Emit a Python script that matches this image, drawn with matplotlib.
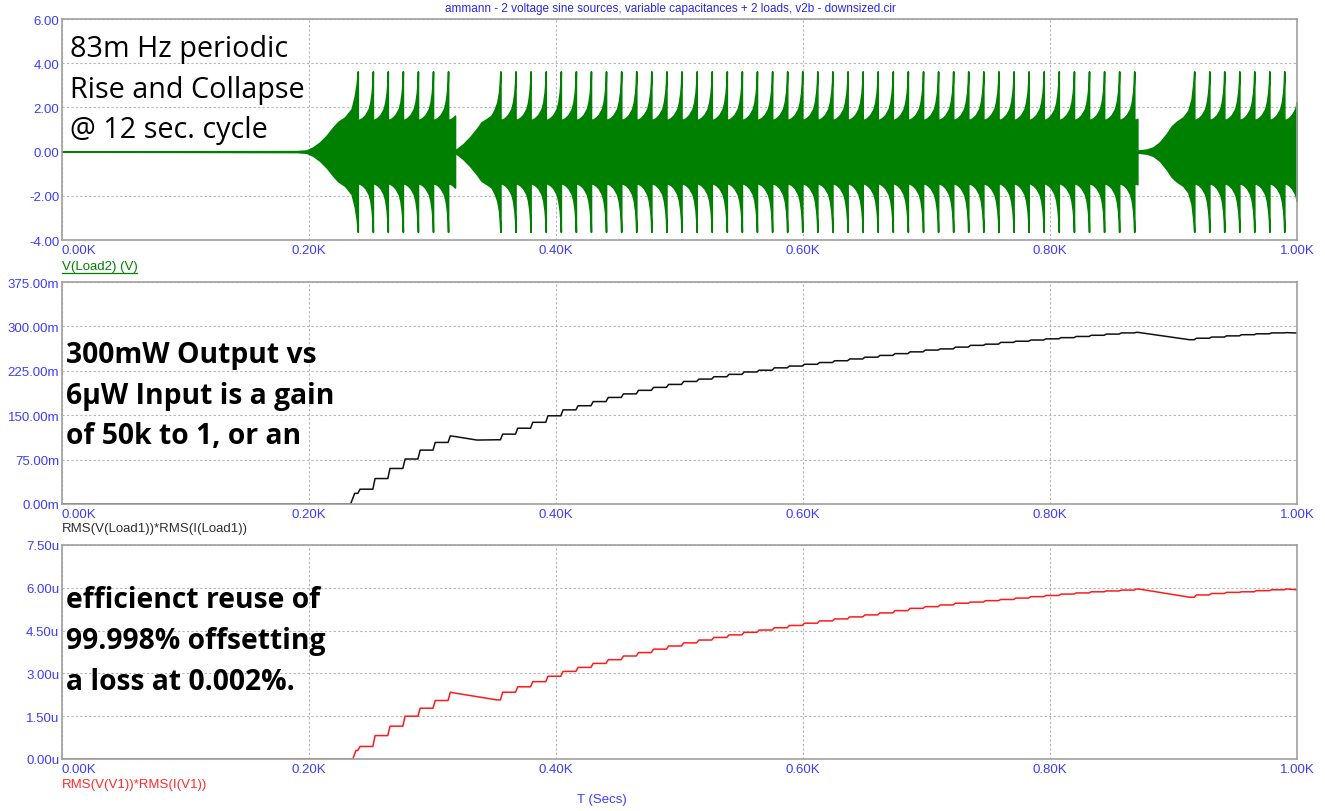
import numpy as np
import matplotlib.pyplot as plt

# ---- data (time axis in seconds) ----
x_ticks = [0, 200, 400, 600, 800, 1000]
x_tick_labels = ["0.00K", "0.20K", "0.40K", "0.60K", "0.80K", "1.00K"]

v_ticks = [-4, -2, 0, 2, 4, 6]
v_tick_labels = ["-4.00", "-2.00", "0.00", "2.00", "4.00", "6.00"]
p_out_ticks = [0, 75, 150, 225, 300, 375]
p_out_tick_labels = ["0.00m", "75.00m", "150.00m", "225.00m", "300.00m", "375.00m"]
p_in_ticks = [0, 1.5, 3.0, 4.5, 6.0, 7.5]
p_in_tick_labels = ["0.00u", "1.50u", "3.00u", "4.50u", "6.00u", "7.50u"]

# times of the periodic collapse spikes in the three bursts
burst1_teeth = [239.5, 251.7, 263.8, 276.0, 288.2, 300.4, 312.6]
burst2_teeth = [355.0, 367.2, 379.4, 391.7, 403.9, 416.1, 428.3, 440.5, 452.8, 465.0,
                477.2, 489.4, 501.6, 513.9, 526.1, 538.3, 550.5, 562.7, 575.0, 587.2,
                599.4, 611.6, 623.8, 636.1, 648.3, 660.5, 672.7, 684.9, 697.2, 709.4,
                721.6, 733.8, 746.0, 758.3, 770.5, 782.7, 794.9, 807.1, 819.4, 831.6,
                843.8, 856.0, 868.2]
burst3_teeth = [916.8, 929.0, 941.1, 953.3, 965.4, 977.6, 989.7]
collapse_times = [318.2, 870.7]
cycle = 12.2

# envelope of V(Load2) within one cycle (fraction of cycle -> amplitude)
tooth_frac = [0.0, 0.07, 0.29, 0.51, 0.73, 0.84, 0.93, 0.98, 1.0]
tooth_env = [1.40, 1.43, 1.51, 1.66, 1.93, 2.23, 2.68, 3.13, 3.63]

# build-up of the envelope before the first spike of each burst
ramp1_t = [0, 190, 198, 203.4, 209, 214.3, 219.7, 223.8, 229.2, 234.6, 237.2, 238.8]
ramp1_env = [0, 0.02, 0.05, 0.19, 0.42, 0.72, 1.10, 1.35, 1.55, 1.93, 2.53, 3.13]
ramp2_t = [318.2, 320, 325, 330.4, 335.8, 339.8, 343.9, 347.9, 350.6, 352.5, 353.9, 354.5]
ramp2_env = [0.05, 0.12, 0.34, 0.65, 1.02, 1.33, 1.47, 1.63, 1.93, 2.23, 2.68, 3.13]
ramp3_t = [870.7, 878.3, 883.6, 889, 894.5, 898.5, 902.6, 907.9, 912, 914.7, 916.2]
ramp3_env = [0.04, 0.09, 0.19, 0.42, 0.80, 1.14, 1.35, 1.55, 1.85, 2.38, 3.13]

# RMS(V(Load1))*RMS(I(Load1)) in mW, level after each spike
load1_rise_t = [0, 233.7, 237.0]
load1_rise_v = [0, 0, 18]
load1_b1 = [25, 43, 60, 76, 91, 104, 115]
load1_gap1_t = [318.2, 336, 352]
load1_gap1_v = [114, 108, 108.5]
load1_b2 = [118, 128, 138, 149, 159, 166, 173, 180, 186, 192,
            197, 202, 207, 211, 215, 219, 223, 226, 230, 233,
            236, 239, 242, 245, 248, 251, 254, 257, 260, 262,
            265, 268, 270, 273, 275, 277, 279, 281, 283, 285,
            287, 289, 290]
load1_gap2_t = [871, 913]
load1_gap2_v = [290, 277.5]
load1_b3 = [280, 282, 284, 286, 287.5, 289, 289.5]
load1_end_t = [1000]
load1_end_v = [288.8]

# RMS(V(V1))*RMS(I(V1)) in uW
v1_rise_t = [0, 235.5, 238.0]
v1_rise_v = [0, 0, 0.30]
v1_b1 = [0.44, 0.82, 1.15, 1.50, 1.78, 2.05, 2.34]
v1_gap1_t = [318.2, 352.5]
v1_gap1_v = [2.31, 2.07]
v1_b2 = [2.34, 2.53, 2.71, 2.90, 3.07, 3.21, 3.35, 3.48, 3.61, 3.73,
         3.85, 3.96, 4.07, 4.17, 4.26, 4.35, 4.44, 4.52, 4.60, 4.68,
         4.76, 4.84, 4.91, 4.98, 5.05, 5.12, 5.20, 5.28, 5.34, 5.40,
         5.46, 5.50, 5.55, 5.59, 5.64, 5.69, 5.73, 5.78, 5.82, 5.86,
         5.89, 5.92, 5.96]
v1_gap2_t = [873, 913]
v1_gap2_v = [5.95, 5.67]
v1_b3 = [5.75, 5.80, 5.84, 5.86, 5.90, 5.93, 5.96]
v1_end_t = [1000]
v1_end_v = [5.93]


def burst_envelope(teeth, stop):
    t, e = [], []
    for i, t0 in enumerate(teeth):
        t.append(t0)
        e.append(tooth_env[-1])
        span = teeth[i + 1] - t0 if i + 1 < len(teeth) else cycle
        for f, a in zip(tooth_frac[:-1], tooth_env[:-1]):
            tt = t0 + f * span
            if tt < stop:
                t.append(tt)
                e.append(a)
    # value at the collapse / end of record
    last = teeth[-1]
    t.append(stop)
    e.append(np.interp((stop - last) / cycle, tooth_frac, tooth_env))
    return t, e


def staircase(rise_t, rise_v, parts, rise_w=1.8):
    t, v = list(rise_t), list(rise_v)
    prev = rise_v[-1]
    for teeth, vals, tail_t, tail_v in parts:
        for t0, val in zip(teeth, vals):
            t += [t0, t0 + rise_w]
            v += [prev, val]
            prev = val
        t += tail_t
        v += tail_v
        prev = tail_v[-1]
    return np.array(t), np.array(v)


# green envelope
env_t, env_v = list(ramp1_t), list(ramp1_env)
bt, be = burst_envelope(burst1_teeth, collapse_times[0])
env_t += bt; env_v += be
env_t += ramp2_t; env_v += ramp2_env
bt, be = burst_envelope(burst2_teeth, collapse_times[1])
env_t += bt; env_v += be
env_t += ramp3_t; env_v += ramp3_env
bt, be = burst_envelope(burst3_teeth, 1000)
env_t += bt; env_v += be
env_t = np.array(env_t)
env_v = np.array(env_v)

load1_t, load1_v = staircase(load1_rise_t, load1_rise_v, [
    (burst1_teeth, load1_b1, load1_gap1_t, load1_gap1_v),
    (burst2_teeth, load1_b2, load1_gap2_t, load1_gap2_v),
    (burst3_teeth, load1_b3, load1_end_t, load1_end_v)])
v1_t, v1_v = staircase(v1_rise_t, v1_rise_v, [
    (burst1_teeth, v1_b1, v1_gap1_t, v1_gap1_v),
    (burst2_teeth, v1_b2, v1_gap2_t, v1_gap2_v),
    (burst3_teeth, v1_b3, v1_end_t, v1_end_v)])

# ---- figure ----
W, H = 1325, 812
fig = plt.figure(figsize=(W / 100, H / 100), dpi=100)

tick_blue = "#3c3cff"
frame_gray = "#a0a0a0"


def rect(top, bottom):
    return [62 / W, 1 - bottom / H, (1297 - 62) / W, (bottom - top) / H]


def style(ax, ticks, labels, lims):
    ax.set_xlim(0, 1000)
    ax.set_ylim(*lims)
    ax.set_xticks(x_ticks)
    ax.set_xticklabels(x_tick_labels)
    ax.set_yticks(ticks)
    ax.set_yticklabels(labels)
    ax.tick_params(length=0, colors=tick_blue, labelsize=9.5)
    ax.tick_params(axis="y", pad=2)
    ax.tick_params(axis="x", pad=3)
    for lab in ax.get_xticklabels() + ax.get_yticklabels():
        lab.set_family("Liberation Sans")
    ax.get_xticklabels()[0].set_horizontalalignment("left")
    for s in ax.spines.values():
        s.set_color(frame_gray)
        s.set_linewidth(1.2)
    ax.grid(True, linestyle=(0, (2, 2)), color="#b4b4b4", linewidth=0.8)
    ax.set_axisbelow(True)


ax1 = fig.add_axes(rect(20, 241))
ax2 = fig.add_axes(rect(283, 505))
ax3 = fig.add_axes(rect(546, 760))

ax1.fill_between(env_t, -env_v, env_v, color="#008000", linewidth=1.2, edgecolor="#008000")
style(ax1, v_ticks, v_tick_labels, (-4, 6))

ax2.plot(load1_t, load1_v, color="#101010", linewidth=1.1)
style(ax2, p_out_ticks, p_out_tick_labels, (0, 375))

ax3.plot(v1_t, v1_v, color="#ff1a1a", linewidth=1.1)
style(ax3, p_in_ticks, p_in_tick_labels, (0, 7.5))


def ftext(x, y, s, **kw):
    return fig.text(x / W, 1 - y / H, s, **kw)


ftext(670, 9, "ammann - 2 voltage sine sources, variable capacitances + 2 loads, v2b - downsized.cir",
      ha="center", va="center", color="#2828e6", fontsize=8.5, family="Liberation Sans")
ftext(62, 267, "V(Load2) (V)", ha="left", va="center", color="#008000", fontsize=9.5,
      family="Liberation Sans")
fig.add_artist(plt.Line2D([62 / W, 137 / W], [1 - 273.5 / H] * 2, color="#008000", linewidth=0.9))
ftext(62, 529, "RMS(V(Load1))*RMS(I(Load1))", ha="left", va="center", color="#303030",
      fontsize=9.5, family="Liberation Sans")
ftext(62, 785, "RMS(V(V1))*RMS(I(V1))", ha="left", va="center", color="#ff2a2a",
      fontsize=9.5, family="Liberation Sans")
ftext(602, 800, "T (Secs)", ha="center", va="center", color=tick_blue, fontsize=9.5,
      family="Liberation Sans")

note_top = ["83m Hz periodic", "Rise and Collapse", "@ 12 sec. cycle"]
note_mid = ["300mW Output vs", "6\u03bcW Input is a gain", "of 50k to 1, or an"]
note_bot = ["efficienct reuse of", "99.998% offsetting", "a loss at 0.002%."]
for i, s in enumerate(note_top):
    ftext(70, 57 + 40.6 * i, s, ha="left", va="baseline", fontsize=20.7, family="Open Sans",
          color="black")
for i, s in enumerate(note_mid):
    ftext(66, 363.3 + 40.4 * i, s, ha="left", va="baseline", fontsize=20.3, family="Open Sans",
          fontweight="bold", color="black")
for i, s in enumerate(note_bot):
    ftext(66, 608.3 + 41 * i, s, ha="left", va="baseline", fontsize=20.3, family="Open Sans",
          fontweight="bold", color="black")

fig.savefig("out.png", dpi=100, facecolor="white")
